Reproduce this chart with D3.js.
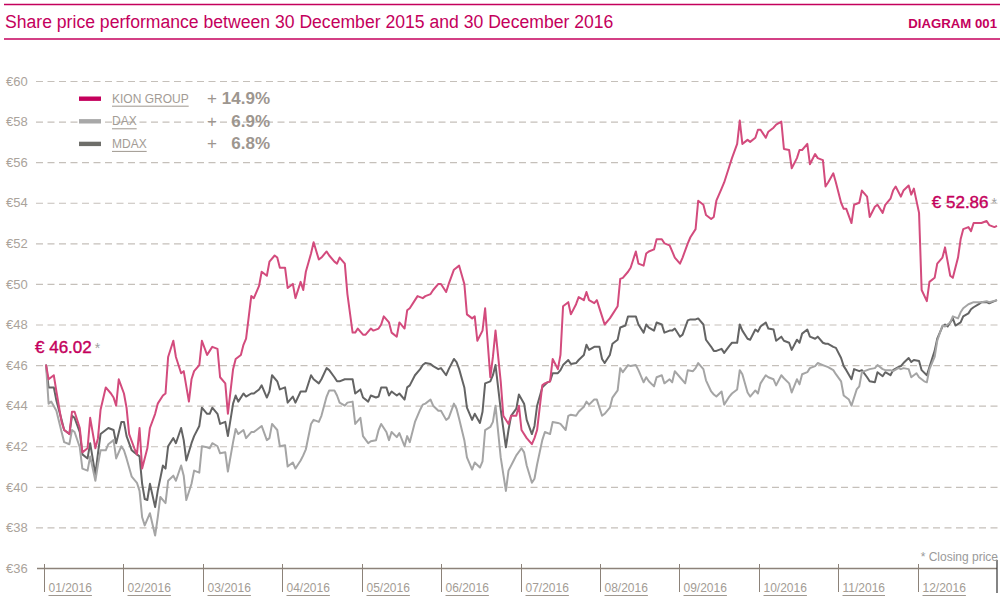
<!DOCTYPE html>
<html lang="en">
<head>
<meta charset="UTF-8">
<title>Share price performance 2016</title>
<script src="https://d3js.org/d3.v7.min.js"></script>
<style>
  body { margin: 0; background: #fff; }
  svg { display: block; font-family: "Liberation Sans", Arial, sans-serif; }
</style>
</head>
<body>
<svg></svg>
<script>

    // [days since 30 Dec 2015, closing price in €]
    var kionGroup = [[0,46.02],[1,45.3],[3,45.5],[4,44.7],[6,43.2],[7,42.8],[9,42.6],[10,43.7],[11,43.7],[13,42.9],[14,41.7],[16,41.9],[17,43.4],[19,41.9],[20,42.4],[21,43.8],[23,44.9],[25,44.6],[26,44.4],[27,44.0],[28,45.3],[30,44.6],[31,43.9],[32,42.6],[34,41.9],[35,41.6],[36,42.9],[37,40.9],[39,41.9],[40,42.9],[42,43.6],[43,44.1],[45,44.5],[46,44.6],[47,46.4],[49,47.2],[50,46.4],[52,45.6],[53,45.7],[55,44.2],[56,45.3],[57,45.7],[59,46.0],[60,47.2],[62,46.5],[63,46.7],[64,46.9],[66,46.8],[67,45.4],[69,45.1],[70,43.6],[72,45.8],[73,46.3],[75,46.5],[76,47.0],[77,47.3],[79,49.4],[80,49.3],[82,49.9],[83,50.6],[85,50.4],[86,51.1],[88,51.4],[89,51.3],[90,50.8],[92,50.8],[93,49.8],[95,50.0],[96,49.3],[98,50.1],[99,49.7],[100,50.6],[102,51.5],[103,52.05],[105,51.2],[106,51.3],[108,51.6],[109,51.4],[111,51.1],[112,51.0],[113,51.3],[115,51.0],[116,49.5],[118,47.6],[119,47.6],[120,47.8],[122,47.5],[123,47.5],[125,47.8],[126,47.7],[128,47.8],[129,48.0],[130,48.4],[132,48.1],[133,47.6],[135,47.4],[136,48.1],[138,47.8],[139,48.7],[140,48.8],[142,49.2],[143,49.4],[145,49.3],[146,49.4],[148,49.5],[149,49.7],[151,50.0],[152,50.0],[154,49.6],[155,50.0],[157,50.7],[159,50.9],[161,50.0],[162,48.5],[164,48.3],[165,48.4],[166,47.2],[168,47.7],[169,48.8],[171,45.4],[172,46.4],[173,47.7],[175,45.2],[176,43.5],[178,43.1],[179,43.5],[181,43.5],[182,44.0],[183,42.8],[185,42.4],[187,42.1],[188,42.4],[189,42.8],[191,45.0],[192,45.1],[194,45.2],[195,46.3],[197,45.8],[198,46.5],[199,48.9],[201,49.1],[202,48.5],[204,49.0],[205,49.35],[207,49.2],[208,49.6],[209,49.2],[211,49.05],[212,49.2],[214,48.4],[215,48.0],[217,48.3],[218,48.5],[220,48.9],[221,50.25],[222,50.3],[224,50.6],[225,50.8],[227,51.6],[228,51.0],[230,50.9],[231,51.5],[232,51.6],[234,51.7],[235,52.2],[237,52.2],[238,52.0],[240,51.9],[241,51.6],[242,51.3],[244,51.0],[245,51.3],[247,52.0],[248,52.3],[250,52.7],[251,54.1],[253,53.9],[254,53.4],[256,53.2],[257,53.3],[258,54.1],[260,54.7],[261,55.0],[263,55.8],[264,56.2],[266,56.9],[267,58.05],[268,56.9],[270,57.1],[271,57.0],[273,57.2],[274,57.6],[275,57.6],[277,57.2],[278,57.5],[280,57.7],[281,57.85],[283,58.0],[284,56.65],[286,56.6],[287,55.7],[289,56.2],[290,56.6],[291,56.6],[293,56.9],[294,55.9],[296,56.4],[297,56.2],[299,56.1],[300,54.8],[301,55.0],[303,55.45],[304,55.0],[306,54.0],[307,53.7],[308,53.7],[310,53.0],[311,53.9],[313,54.0],[314,54.6],[316,54.3],[317,53.3],[319,53.8],[320,53.9],[322,53.5],[323,53.9],[325,54.2],[326,54.6],[327,54.8],[329,54.3],[330,54.6],[332,54.85],[333,54.4],[334,54.7],[336,53.5],[337,49.7],[339,49.15],[340,50.1],[342,50.3],[343,51.0],[345,51.3],[346,51.8],[348,50.4],[349,50.3],[351,51.3],[352,52.2],[353,52.7],[355,52.8],[356,52.6],[357,53.0],[359,53.0],[360,53.0],[362,53.1],[363,52.9],[365,52.8],[366,52.86]];

    // indexed to the KION start price
    var dax = [[0,46.02],[1,44.1],[2,44.2],[4,43.75],[6,42.7],[7,42.2],[9,42.1],[10,42.8],[11,42.7],[13,41.95],[14,40.9],[16,40.8],[17,41.5],[19,40.3],[20,41.1],[21,41.8],[23,41.8],[24,42.1],[26,42.3],[27,41.4],[29,42.0],[30,41.8],[31,41.4],[33,40.5],[35,40.2],[36,39.8],[37,38.5],[38,38.1],[40,38.7],[42,37.6],[43,38.5],[44,39.5],[46,39.2],[47,40.3],[49,40.55],[50,40.3],[52,41.05],[53,40.55],[54,39.35],[56,40.15],[57,40.8],[59,40.7],[60,42.0],[62,41.95],[63,41.9],[64,42.15],[66,42.0],[67,41.65],[69,41.7],[70,40.75],[72,42.2],[73,42.85],[74,42.6],[76,42.8],[77,42.4],[79,42.7],[80,42.7],[82,42.9],[83,43.0],[85,42.3],[86,42.4],[87,43.1],[89,42.8],[90,42.0],[92,42.05],[93,41.0],[95,41.2],[96,40.9],[98,41.3],[99,41.55],[100,41.85],[102,43.1],[103,43.3],[105,43.2],[106,43.5],[108,44.45],[109,44.75],[111,44.75],[112,44.5],[113,44.15],[115,44.0],[116,44.15],[118,44.2],[119,43.1],[121,43.4],[122,42.5],[124,42.15],[125,42.25],[127,42.3],[128,42.8],[129,43.1],[131,42.7],[132,42.3],[133,42.7],[135,42.45],[136,42.65],[138,42.0],[139,42.5],[140,42.2],[142,43.2],[144,43.8],[145,44.05],[146,44.1],[148,44.3],[149,44.0],[151,43.75],[152,43.75],[154,43.3],[155,43.4],[157,44.1],[158,43.85],[159,43.35],[161,42.3],[162,41.45],[164,40.85],[165,41.2],[167,40.95],[168,41.25],[169,42.8],[171,42.95],[172,43.2],[173,44.0],[175,41.45],[177,39.8],[178,40.8],[180,41.3],[181,41.55],[183,41.9],[184,41.7],[185,41.05],[187,40.2],[188,40.4],[189,41.1],[191,42.3],[192,42.7],[194,42.6],[195,43.2],[197,43.15],[198,43.1],[200,42.8],[201,43.5],[202,43.55],[204,43.5],[205,43.7],[207,43.95],[208,44.2],[209,44.05],[211,44.3],[212,44.3],[214,43.5],[215,43.6],[217,43.9],[218,44.4],[220,44.75],[221,45.85],[222,45.65],[224,46.0],[225,45.95],[227,46.0],[228,45.75],[230,45.15],[231,45.4],[232,45.2],[234,44.95],[235,45.4],[237,45.5],[238,45.1],[240,45.3],[241,45.15],[242,45.7],[244,45.4],[246,45.1],[247,45.75],[249,45.7],[250,45.85],[251,46.1],[253,45.8],[254,45.25],[256,44.7],[257,44.55],[258,44.45],[260,44.7],[261,44.05],[263,44.45],[264,44.6],[266,44.8],[267,45.75],[268,45.55],[270,44.65],[271,44.45],[273,44.75],[274,44.6],[275,45.1],[277,45.5],[278,45.4],[280,45.3],[281,45.0],[283,45.5],[284,45.35],[286,45.1],[287,44.65],[289,45.3],[290,45.05],[291,45.55],[293,45.65],[294,45.85],[296,45.95],[297,46.1],[299,46.0],[300,45.95],[301,45.9],[303,45.75],[304,45.55],[306,45.2],[307,44.5],[309,44.3],[310,44.0],[312,44.8],[313,44.95],[314,45.65],[316,45.75],[317,45.8],[319,45.85],[320,46.0],[322,45.8],[323,45.75],[325,45.75],[326,45.7],[328,45.85],[329,45.8],[330,45.85],[332,45.8],[333,45.4],[335,45.6],[336,45.4],[338,45.2],[339,45.15],[340,45.8],[342,46.4],[343,47.2],[345,47.95],[346,47.9],[348,48.1],[349,48.4],[351,48.3],[352,48.6],[353,48.8],[355,49.0],[356,49.05],[357,49.1],[359,49.1],[360,49.1],[362,49.15],[363,49.1],[366,49.2]];

    var mdax = [[0,46.02],[1,44.9],[3,44.9],[4,44.25],[6,43.3],[7,42.8],[9,42.6],[10,43.5],[11,43.4],[13,42.7],[14,41.6],[16,41.4],[17,42.15],[19,40.6],[20,41.65],[21,42.6],[23,42.8],[24,42.9],[26,42.8],[27,42.15],[29,43.2],[30,43.2],[31,42.5],[33,41.8],[34,41.7],[36,41.5],[37,40.15],[38,39.4],[39,39.35],[40,40.15],[42,39.0],[43,39.8],[45,41.05],[46,40.9],[47,42.0],[49,42.4],[50,42.15],[52,42.9],[53,42.3],[54,41.3],[56,42.15],[57,42.5],[59,43.0],[60,43.9],[62,43.6],[63,43.6],[64,43.9],[66,43.6],[67,43.1],[69,43.2],[70,42.5],[72,44.1],[73,44.5],[74,44.2],[76,44.6],[77,44.45],[79,44.6],[80,44.6],[82,44.8],[83,45.0],[85,44.4],[86,44.7],[87,45.5],[89,45.2],[90,44.8],[92,44.9],[93,44.15],[95,44.45],[96,44.15],[98,44.7],[99,44.7],[100,44.7],[102,45.5],[103,45.3],[105,45.1],[106,45.3],[108,45.85],[109,45.75],[111,45.4],[112,45.2],[113,45.2],[115,45.3],[116,45.3],[118,45.3],[119,44.6],[121,44.8],[122,44.4],[124,44.2],[125,44.5],[127,44.4],[128,44.45],[129,44.9],[131,44.9],[132,44.5],[133,44.7],[135,44.5],[136,44.6],[138,44.3],[139,44.9],[140,45.0],[142,45.5],[144,45.8],[145,46.0],[146,46.1],[148,46.05],[149,45.95],[151,45.8],[152,45.85],[154,45.5],[155,45.8],[157,46.3],[158,46.15],[159,45.8],[161,44.9],[162,43.9],[164,43.3],[165,43.6],[167,43.15],[168,43.7],[169,45.1],[171,45.2],[172,45.5],[173,46.0],[175,43.8],[177,41.95],[178,42.8],[179,43.5],[181,43.85],[182,44.55],[184,44.1],[185,43.3],[187,42.6],[188,43.0],[189,44.0],[191,44.9],[193,45.15],[194,45.2],[195,45.6],[197,45.6],[198,45.75],[199,46.0],[201,46.25],[202,46.05],[204,46.1],[205,46.25],[207,46.5],[208,47.0],[209,46.75],[211,46.9],[213,46.9],[214,46.3],[215,46.1],[217,46.5],[218,47.05],[220,47.25],[221,47.85],[223,47.95],[224,48.4],[225,48.4],[227,48.4],[228,48.0],[230,47.6],[231,48.0],[232,47.85],[234,47.7],[235,48.1],[237,48.0],[238,47.6],[240,47.7],[241,47.7],[242,47.8],[244,47.4],[245,47.5],[247,48.2],[248,48.25],[250,48.25],[251,48.3],[253,48.0],[254,47.25],[256,46.9],[257,46.7],[258,46.7],[260,46.8],[261,46.6],[263,46.95],[264,47.1],[266,47.1],[267,48.0],[268,47.7],[270,47.3],[271,47.25],[273,47.75],[274,47.65],[275,47.9],[277,48.1],[278,47.8],[280,47.75],[281,47.2],[283,47.4],[284,47.2],[286,47.1],[287,46.75],[289,47.25],[290,47.1],[291,47.55],[293,47.75],[294,47.4],[296,47.3],[297,47.4],[299,47.1],[300,47.05],[301,47.05],[303,46.9],[304,46.85],[306,46.35],[307,45.95],[308,45.75],[310,45.3],[311,45.8],[313,45.7],[314,45.75],[316,45.4],[317,45.2],[319,45.15],[320,45.65],[322,45.45],[323,45.65],[325,45.5],[326,45.75],[328,45.9],[329,45.95],[330,46.1],[332,46.35],[333,46.15],[334,46.25],[336,46.2],[337,45.75],[339,45.5],[340,45.9],[342,46.7],[343,47.3],[345,47.9],[346,48.0],[347,47.9],[349,48.3],[350,47.95],[352,48.1],[353,48.4],[355,48.55],[356,48.75],[357,48.85],[359,49.0],[360,49.1],[362,49.1],[363,49.05],[365,49.15],[366,49.2]];

    var months = ["01/2016", "02/2016", "03/2016", "04/2016", "05/2016", "06/2016",
                  "07/2016", "08/2016", "09/2016", "10/2016", "11/2016", "12/2016"];
    var yTicks = [36, 38, 40, 42, 44, 46, 48, 50, 52, 54, 56, 58, 60];
    var seriesNames = ["KION GROUP", "DAX", "MDAX"];
    var changes = ["14.9%", "6.9%", "6.8%"];
    var startPrice = 46.02, endPrice = 52.86;

    var width = 1000, height = 600;
    var magenta = "#c4005c";
    var textGrey = "#a39c95";
    var axisGrey = "#8c8279";
    var lineColors = ["#d34b7d", "#a5a5a5", "#646464"];
    var swatchColors = ["#c4005c", "#a8a8a8", "#6e6e6a"];

    var svg = d3.select("svg").attr("width", width).attr("height", height);

    var x = d3.scaleLinear().domain([0, 366]).range([46, 997]);
    var y = d3.scaleLinear().domain([36, 60]).range([568, 81]);
    var monthScale = d3.scaleBand().domain(months).range([44, 997]);

    // header
    svg.append("line").attr("x1", 4).attr("x2", 1000).attr("y1", 4.5).attr("y2", 4.5)
        .attr("stroke", magenta).attr("stroke-width", 1.3);
    svg.append("line").attr("x1", 4).attr("x2", 1000).attr("y1", 39).attr("y2", 39)
        .attr("stroke", magenta).attr("stroke-width", 1.3);
    svg.append("text").attr("x", 5).attr("y", 28)
        .attr("fill", magenta).attr("font-size", 17.6)
        .text("Share price performance between 30 December 2015 and 30 December 2016");
    svg.append("text").attr("x", 997).attr("y", 27.5).attr("text-anchor", "end")
        .attr("fill", magenta).attr("font-size", 13.2).attr("font-weight", "bold")
        .text("DIAGRAM 001");

    // y axis with dashed grid
    var yAxis = d3.axisLeft(y).tickValues(yTicks)
        .tickSize(-(1000 - 36)).tickFormat(function (d) { return "€" + d; });
    var gy = svg.append("g").attr("transform", "translate(36,0)").call(yAxis);
    gy.attr("font-family", null).attr("font-size", 13);
    gy.select(".domain").remove();
    gy.selectAll(".tick line")
        .attr("stroke", "#c5c0ba").attr("stroke-width", 1.2)
        .attr("stroke-dasharray", "7,4.5");
    gy.selectAll(".tick text")
        .attr("x", -30).attr("text-anchor", "start").attr("fill", "#aaa39b");
    gy.selectAll(".tick").filter(function (d) { return d === 36; }).select("line")
        .attr("stroke", axisGrey).attr("stroke-width", 1.3)
        .attr("stroke-dasharray", null).attr("x1", 1).attr("x2", 961);

    // month axis
    var mt = svg.append("g").selectAll("g").data(months).join("g")
        .attr("transform", function (d) { return "translate(" + (Math.round(monthScale(d)) + 0.5) + ",0)"; });
    mt.append("line").attr("y1", 564).attr("y2", 592)
        .attr("stroke", axisGrey).attr("stroke-width", 1);
    mt.append("text").attr("x", 4).attr("y", 591.5)
        .attr("fill", textGrey).attr("font-size", 12)
        .text(function (d) { return d; })
        .each(function () {
            var w = this.getComputedTextLength();
            d3.select(this.parentNode).append("line")
                .attr("x1", 4).attr("x2", 4 + w).attr("y1", 595.5).attr("y2", 595.5)
                .attr("stroke", "#9e978f").attr("stroke-width", 1);
        });
    svg.append("line")
        .attr("x1", monthScale.range()[1]).attr("x2", monthScale.range()[1])
        .attr("y1", 560).attr("y2", 593)
        .attr("stroke", "#333").attr("stroke-width", 1.2);

    svg.append("text").attr("x", 998).attr("y", 561).attr("text-anchor", "end")
        .attr("fill", "#9a9a9a").attr("font-size", 12)
        .text("* Closing price");

    // lines
    var line = d3.line()
        .x(function (d) { return x(d[0]); })
        .y(function (d) { return y(d[1]); });

    var drawOrder = [[mdax, 2], [dax, 1], [kionGroup, 0]];
    svg.append("g").selectAll("path").data(drawOrder).join("path")
        .attr("d", function (d) { return line(d[0]); })
        .attr("fill", "none")
        .attr("stroke", function (d) { return lineColors[d[1]]; })
        .attr("stroke-width", 2)
        .attr("stroke-linejoin", "round");

    // start / end labels
    var startLabel = svg.append("text").attr("x", x(0) - 11).attr("y", y(startPrice) - 12)
        .attr("fill", magenta).attr("font-size", 17)
        .attr("stroke", magenta).attr("stroke-width", 0.4)
        .text("€ " + startPrice.toFixed(2));
    startLabel.append("tspan").attr("dx", 3).attr("fill", "#a0a0a0").attr("stroke", "none")
        .attr("font-size", 14).text("*");

    var endLabel = svg.append("text").attr("x", x(366)).attr("y", y(endPrice) - 18)
        .attr("text-anchor", "end")
        .attr("fill", magenta).attr("font-size", 17)
        .attr("stroke", magenta).attr("stroke-width", 0.4)
        .text("€ " + endPrice.toFixed(2));
    endLabel.append("tspan").attr("dx", 3).attr("fill", "#a0a0a0").attr("stroke", "none")
        .attr("font-size", 14).text("*");

    // legend
    var legend = svg.append("g").selectAll("g").data(seriesNames).join("g")
        .attr("transform", function (d, i) { return "translate(0," + (98.7 + i * 22.6) + ")"; });
    legend.append("rect").attr("x", 79).attr("y", -2.2).attr("width", 22).attr("height", 4.4)
        .attr("fill", function (d, i) { return swatchColors[i]; });
    legend.append("text").attr("x", 112).attr("y", 4)
        .attr("fill", textGrey).attr("font-size", 12)
        .text(function (d) { return d; })
        .each(function () {
            var w = this.getComputedTextLength();
            d3.select(this.parentNode).append("line")
                .attr("x1", 112).attr("x2", 112 + w).attr("y1", 7.5).attr("y2", 7.5)
                .attr("stroke", "#9e978f").attr("stroke-width", 1);
        });
    legend.append("text").attr("x", 207).attr("y", 5.5)
        .attr("fill", "#9d968f").attr("font-size", 17)
        .text("+");
    legend.append("text").attr("x", 270).attr("y", 5.5).attr("text-anchor", "end")
        .attr("fill", "#9d968f").attr("font-size", 17).attr("font-weight", "bold")
        .text(function (d, i) { return changes[i]; });

</script>
</body>
</html>
